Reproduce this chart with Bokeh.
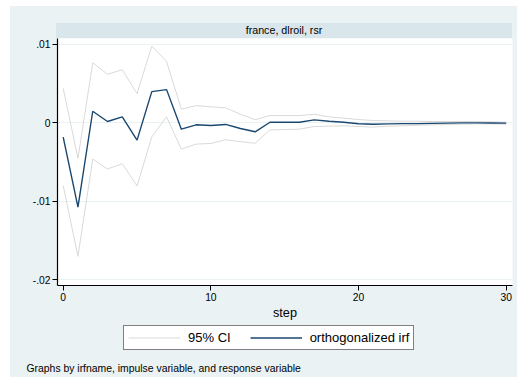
from bokeh.plotting import figure
from bokeh.layouts import column
from bokeh.models import (ColumnDataSource, Legend, LegendItem, FixedTicker,
                          Range1d, Label, Div)
from bokeh.embed import file_html
from bokeh.resources import INLINE

# Impulse response of rsr to an orthogonalized dlroil shock (france), with 95% CI
steps = list(range(31))
irf = [-0.00182, -0.01076, 0.00148, 0.00017, 0.00076, -0.0022, 0.00398, 0.00424,
       -0.0008, -0.00025, -0.00034, -0.0002, -0.00072, -0.00114, 0.00008, 0.00008,
       0.00008, 0.00038, 0.00021, 0.00008, -0.00012, -0.00017, -0.00013, -0.0001,
       -0.0001, -0.00006, -0.00003, 0.0, 0.0, -0.00002, -0.00004]
ci_upper = [0.0044, -0.00453, 0.00767, 0.00619, 0.00678, 0.00373, 0.00979, 0.00784,
            0.00174, 0.0022, 0.00205, 0.00192, 0.0011, 0.0004, 0.00093, 0.00093,
            0.00093, 0.0011, 0.00076, 0.0006, 0.00042, 0.0003, 0.00025, 0.00021,
            0.00021, 0.00017, 0.00017, 0.00017, 0.00017, 0.00013, 0.00008]
ci_lower = [-0.008, -0.01703, -0.00462, -0.00589, -0.00521, -0.00805, -0.00178, 0.00076,
            -0.00335, -0.00271, -0.00263, -0.00216, -0.0024, -0.0026, -0.00089, -0.00085,
            -0.0008, -0.00047, -0.00042, -0.00038, -0.00047, -0.00055, -0.00042, -0.00038,
            -0.0003, -0.00025, -0.00021, -0.00017, -0.00013, -0.00013, -0.00017]

y_ticks = [-0.02, -0.01, 0.0, 0.01]
y_tick_labels = ["-.02", "-.01", "0", ".01"]
x_ticks = [0, 10, 20, 30]
panel_title = "france, dlroil, rsr"
x_label = "step"
series_labels = ["95% CI", "orthogonalized irf"]
note = "Graphs by irfname, impulse variable, and response variable"

BG = "#EAF2F3"
STRIP = "#D9E6EB"
NAVY = "#1A476F"
CI_GRAY = "#D9D9D9"
FONT = "Liberation Sans"

src = ColumnDataSource(dict(step=steps, irf=irf, lo=ci_lower, hi=ci_upper))
ci_style = dict(line_color=CI_GRAY, line_width=1)
irf_style = dict(line_color=NAVY, line_width=1.4)

# by-group strip above the plot region
strip = Div(text=panel_title, width=456, height=15, margin=(17, 0, 0, 46),
            styles={"background-color": STRIP, "text-align": "center",
                    "font-family": FONT, "font-size": "10.7px",
                    "line-height": "15px", "color": "black"})

# main plot: 248 px tall frame, x axis and its title underneath
p = figure(width=507, height=284, output_backend="svg", toolbar_location=None,
           x_range=Range1d(-0.386, 30.425), y_range=Range1d(-0.02075, 0.010763),
           min_border_left=47, min_border_right=5, min_border_top=0,
           min_border_bottom=36, margin=0)
p.frame_align = False
p.border_fill_color = BG
p.background_fill_color = "white"
p.outline_line_color = None

p.line("step", "hi", source=src, **ci_style)
p.line("step", "lo", source=src, **ci_style)
p.line("step", "irf", source=src, **irf_style)

p.xaxis.ticker = FixedTicker(ticks=x_ticks)
p.yaxis.ticker = FixedTicker(ticks=y_ticks)
p.yaxis.major_label_overrides = {t: s for t, s in zip(y_ticks, y_tick_labels)}
for ax in (p.xaxis[0], p.yaxis[0]):
    ax.axis_line_color = "black"
    ax.axis_line_width = 1.2
    ax.major_tick_line_color = "black"
    ax.major_tick_out = 5
    ax.major_tick_in = 0
    ax.minor_tick_line_color = None
    ax.major_label_text_font = FONT
    ax.major_label_text_font_size = "10.3px"
    ax.major_label_text_color = "black"
    ax.major_label_standoff = 2
p.yaxis.major_label_orientation = "horizontal"
p.xaxis.axis_label = x_label
p.xaxis.axis_label_text_font = FONT
p.xaxis.axis_label_text_font_size = "12.7px"
p.xaxis.axis_label_text_font_style = "normal"
p.xaxis.axis_label_text_color = "black"
p.xaxis.axis_label_standoff = 2

p.xgrid.grid_line_color = None
p.ygrid.grid_line_color = BG
p.ygrid.grid_line_width = 1

# footer: legend box and by-variable note; its y range sits above the data,
# so the key renderers only show up as legend glyphs
foot = figure(width=507, height=55, output_backend="svg", toolbar_location=None,
              x_axis_type=None, y_axis_type=None, min_border=0, margin=0,
              x_range=Range1d(0, 30), y_range=Range1d(1, 2))
foot.frame_align = False
foot.border_fill_color = BG
foot.background_fill_color = BG
foot.outline_line_color = None
foot.grid.visible = False

key_ci = foot.line("step", "hi", source=src, **ci_style)
key_irf = foot.line("step", "irf", source=src, **irf_style)

legend = Legend(items=[LegendItem(label=series_labels[0], renderers=[key_ci]),
                       LegendItem(label=series_labels[1], renderers=[key_irf])],
                orientation="horizontal", location=(113, 27),
                glyph_width=52, glyph_height=13, label_height=13,
                label_standoff=8, spacing=19, padding=4, margin=0,
                label_text_font=FONT, label_text_font_size="13px",
                label_text_color="black", border_line_color="black",
                border_line_width=1, background_fill_color="white",
                background_fill_alpha=1)
foot.add_layout(legend, "center")

foot.add_layout(Label(x=16, y=9, x_units="screen", y_units="screen", text=note,
                      text_align="left", text_baseline="middle", text_font=FONT,
                      text_font_size="10.4px", text_color="black"))

layout = column(strip, p, foot, spacing=0, margin=(6, 0, 0, 10),
                styles={"background-color": BG})

open("out.html", "w").write(file_html(layout, INLINE))
